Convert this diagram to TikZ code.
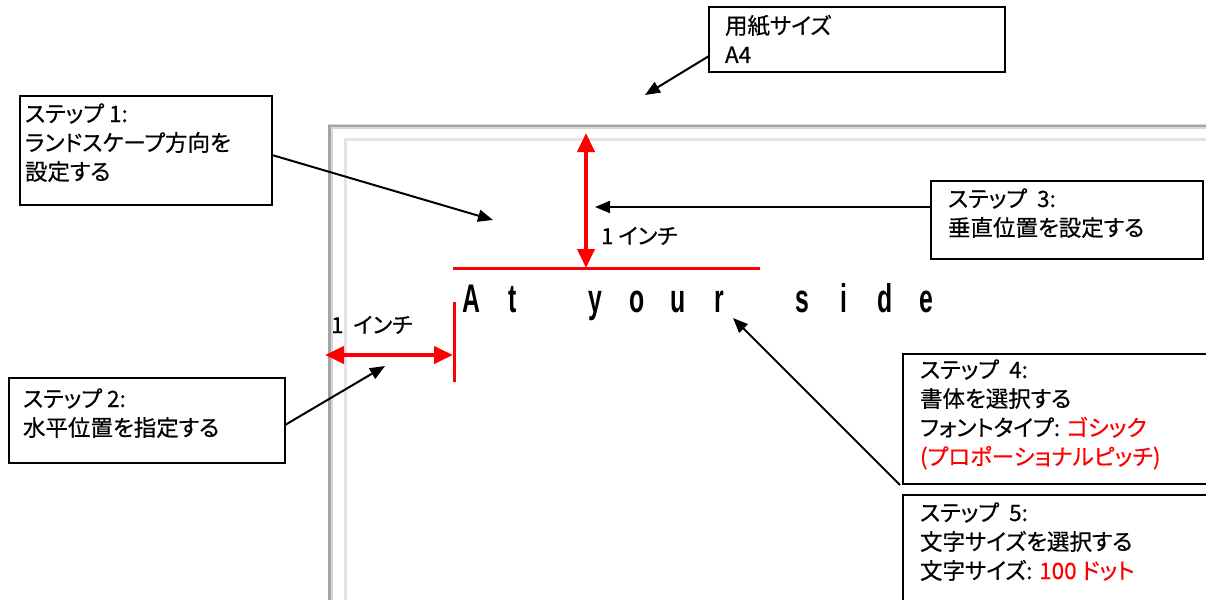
\documentclass[tikz,border=0pt]{standalone}
\usepackage{fontspec}
\usepackage{graphicx}
\setmainfont{Noto Sans CJK JP}[RawFeature=+palt,FakeBold=0.5]
\newfontfamily\latinfont{Liberation Sans}
\usetikzlibrary{arrows.meta,calc}
\definecolor{redline}{RGB}{255,0,0}
\definecolor{edgegray}{RGB}{165,165,165}
\definecolor{edgegraylt}{RGB}{215,215,215}
\definecolor{innergray}{RGB}{228,228,228}
\newcommand\wch[1]{\makebox[41.4pt][c]{\scalebox{0.62}[1]{#1}}}
\begin{document}
\begin{tikzpicture}[x=1pt,y=-1pt,
  box/.style={draw=black,line width=2pt,inner sep=0pt,outer sep=0pt,anchor=north west},
  lbl/.style={anchor=north west,inner sep=0pt,outer sep=0pt,align=left,font=\fontsize{22.5}{29}\selectfont},
  dimlbl/.style={anchor=base west,inner sep=0pt,font=\fontsize{22}{29}\selectfont},
  callout/.style={draw=black,line width=2pt,-{Triangle[length=15pt,width=12pt]}},
  redarrow/.style={draw=redline,line width=4pt,{Triangle[length=19pt,width=17pt]}-{Triangle[length=19pt,width=17pt]}},
  redbar/.style={draw=redline,line width=3pt}]
\path[use as bounding box] (0,0) rectangle (1206,599);
\clip (0,0) rectangle (1206,599);
\fill[white] (0,0) rectangle (1206,599);
% paper
\draw[edgegraylt, line width=5pt] (330,620) -- (330,126.5) -- (1230,126.5);
\draw[edgegray, line width=2.5pt] (329.5,620) -- (329.5,126) -- (1230,126);
\draw[innergray, line width=3pt] (345,620) -- (345,139) -- (1230,139);
% boxes
\node[box, minimum width=296pt, minimum height=65pt] (a4) at (709,7) {};
\node[box, minimum width=252pt, minimum height=109pt] (s1) at (20,96) {};
\node[box, minimum width=272pt, minimum height=78pt] (s3) at (931,181) {};
\node[box, minimum width=276pt, minimum height=85pt] (s2) at (9,378) {};
\node[box, minimum width=330pt, minimum height=130pt] (s4) at (903,354) {};
\node[box, minimum width=330pt, minimum height=130pt] (s5) at (903,495) {};
% texts
\node[lbl] (a4t) at (725,13.7) {\strut 用紙サイズ\\A4};
\node[lbl] (s1t) at (25,101.7) {\strut ステップ 1:\\ランドスケープ方向を\\設定する};
\node[lbl] (s3t) at (948,186.7) {\strut ステップ\ \ 3:\\垂直位置を設定する};
\node[lbl] (s2t) at (23,386.7) {\strut ステップ 2:\\水平位置を指定する};
\node[lbl] (s4t) at (920,357.7) {\strut ステップ\ \ 4:\\書体を選択する\\フォントタイプ: \textcolor{redline}{ゴシック}\\\textcolor{redline}{(プロポーショナルピッチ)}};
\node[lbl] (s5t) at (920,500.7) {\strut ステップ\ \ 5:\\文字サイズを選択する\\文字サイズ: \textcolor{redline}{100\ ドット}};
% dimension labels
\node[dimlbl] (inchv) at (601,244) {1 インチ};
\node[dimlbl] (inchh) at (331,333) {1\ \ インチ};
% sample text
\node[anchor=base west, inner sep=0pt, font=\latinfont\bfseries\fontsize{40}{40}\selectfont] (ays) at (450.3,312)
  {\wch{A}\wch{t}\wch{\ }\wch{y}\wch{o}\wch{u}\wch{r}\wch{\ }\wch{s}\wch{i}\wch{d}\wch{e}};
% red dimension marks
\coordinate (topline-l) at (453,268.5);
\coordinate (topline-r) at (760,268.5);
\coordinate (vtop) at (586,133);
\coordinate (vbot) at (586,268);
\coordinate (hl) at (325,355);
\coordinate (hr) at (453,355);
\coordinate (leftbar-t) at (454,302);
\coordinate (leftbar-b) at (454,382);
\draw[redbar] (topline-l) -- (topline-r);
\draw[redbar] (leftbar-t) -- (leftbar-b);
\draw[redarrow] (vtop) -- (vbot);
\draw[redarrow] (hl) -- (hr);
% callout arrows
\coordinate (pa4) at (645,95);
\coordinate (p1) at (493,220);
\coordinate (p3) at (595,207);
\coordinate (p2) at (385,366);
\coordinate (p4) at (733,318);
\draw[callout] ([yshift=-16.5pt]a4.west) -- (pa4);
\draw[callout] ([yshift=-4.5pt]s1.east) -- (p1);
\draw[callout] ([yshift=13pt]s3.west) -- (p3);
\draw[callout] ([yshift=-4.5pt]s2.east) -- (p2);
\draw[callout] ([xshift=-3pt,yshift=-1pt]s4.south west) -- (p4);
\end{tikzpicture}
\end{document}
